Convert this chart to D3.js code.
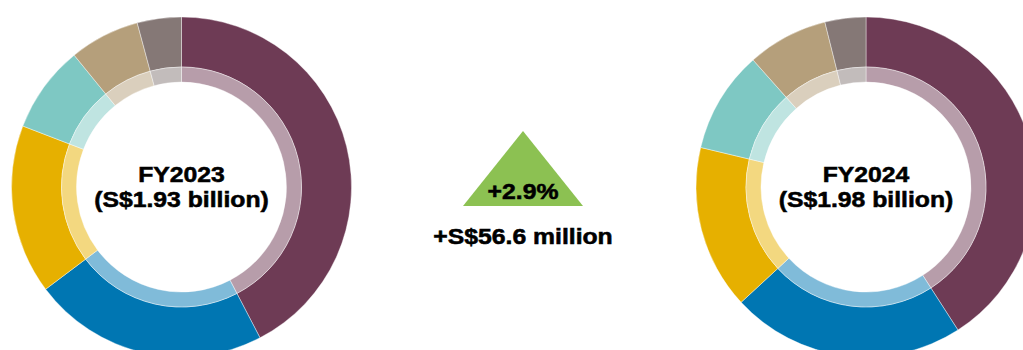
<!DOCTYPE html>
<html>
<head>
<meta charset="utf-8">
<script src="https://cdn.jsdelivr.net/npm/d3@7"></script>
<style>
  html, body { margin: 0; padding: 0; background: #fff; overflow: hidden; }
  svg { display: block; }
  .lbl { font-family: "Liberation Sans", Arial, sans-serif; font-weight: bold; fill: #000;
         stroke: #000; stroke-width: 0.55px; paint-order: stroke; }
</style>
</head>
<body>
<svg id="chart" width="1023" height="350"></svg>
<script>
// Revenue segments (S$ million), clockwise from 12 o'clock
const segments = ["A", "B", "C", "D", "E", "F"];
const fy2023 = [818, 432, 311, 160, 129, 81];
const fy2024 = [810, 440, 309, 192, 152, 77];
const yearLabels = ["FY2023", "FY2024"];
const totalLabels = ["(S$1.93 billion)", "(S$1.98 billion)"];
const changePct = "+2.9%";
const changeAbs = "+S$56.6 million";

const colors = ["#6E3B55", "#0076B2", "#E6B000", "#7EC8C3", "#B59F7B", "#857876"];

const svg = d3.select("#chart");

const rOuter = 170, rMid = 120, rInner = 105;
const centers = [[181.5, 187], [866, 187]];
const fontSize = 22.5;

const color = d3.scaleOrdinal().domain(segments).range(colors);
const pie = d3.pie().sort(null).value(d => d.v);
const arcOuter = d3.arc().innerRadius(rMid).outerRadius(rOuter);
const arcInner = d3.arc().innerRadius(rInner).outerRadius(rMid);

[fy2023, fy2024].forEach((vals, i) => {
  const data = pie(vals.map((v, k) => ({ k: segments[k], v })));
  const g = svg.append("g").attr("transform", `translate(${centers[i][0]},${centers[i][1]})`);

  g.selectAll("path.outer").data(data).join("path")
    .attr("class", "outer")
    .attr("d", arcOuter)
    .attr("fill", d => color(d.data.k))
    .attr("stroke", "#fff").attr("stroke-width", 0.4);

  // lighter inner band: same hue washed 50% toward white
  g.selectAll("path.inner").data(data).join("path")
    .attr("class", "inner")
    .attr("d", arcInner)
    .attr("fill", d => d3.interpolateRgb(color(d.data.k), "#fff")(0.5))
    .attr("stroke", "#fff").attr("stroke-width", 0.4);

  const t = g.append("g").attr("transform", "scale(1.1,1)");
  t.append("text").attr("class", "lbl")
    .attr("text-anchor", "middle").attr("x", 0).attr("y", -5.5)
    .attr("font-size", fontSize).text(yearLabels[i]);
  t.append("text").attr("class", "lbl")
    .attr("text-anchor", "middle").attr("x", 0).attr("y", 19.5)
    .attr("font-size", fontSize).text(totalLabels[i]);
});

// growth indicator
const cx = 523;
const tri = d3.line()([[cx, 131], [cx + 60, 206], [cx - 60, 206]]);
svg.append("path").attr("d", tri + "Z").attr("fill", "#8CC152");

const tg = svg.append("g").attr("transform", `translate(${cx},0) scale(1.1,1)`);
tg.append("text").attr("class", "lbl").attr("text-anchor", "middle")
  .attr("x", 0).attr("y", 199).attr("font-size", fontSize).text(changePct);
tg.append("text").attr("class", "lbl").attr("text-anchor", "middle")
  .attr("x", 0).attr("y", 244.5).attr("font-size", fontSize).text(changeAbs);
</script>
</body>
</html>
